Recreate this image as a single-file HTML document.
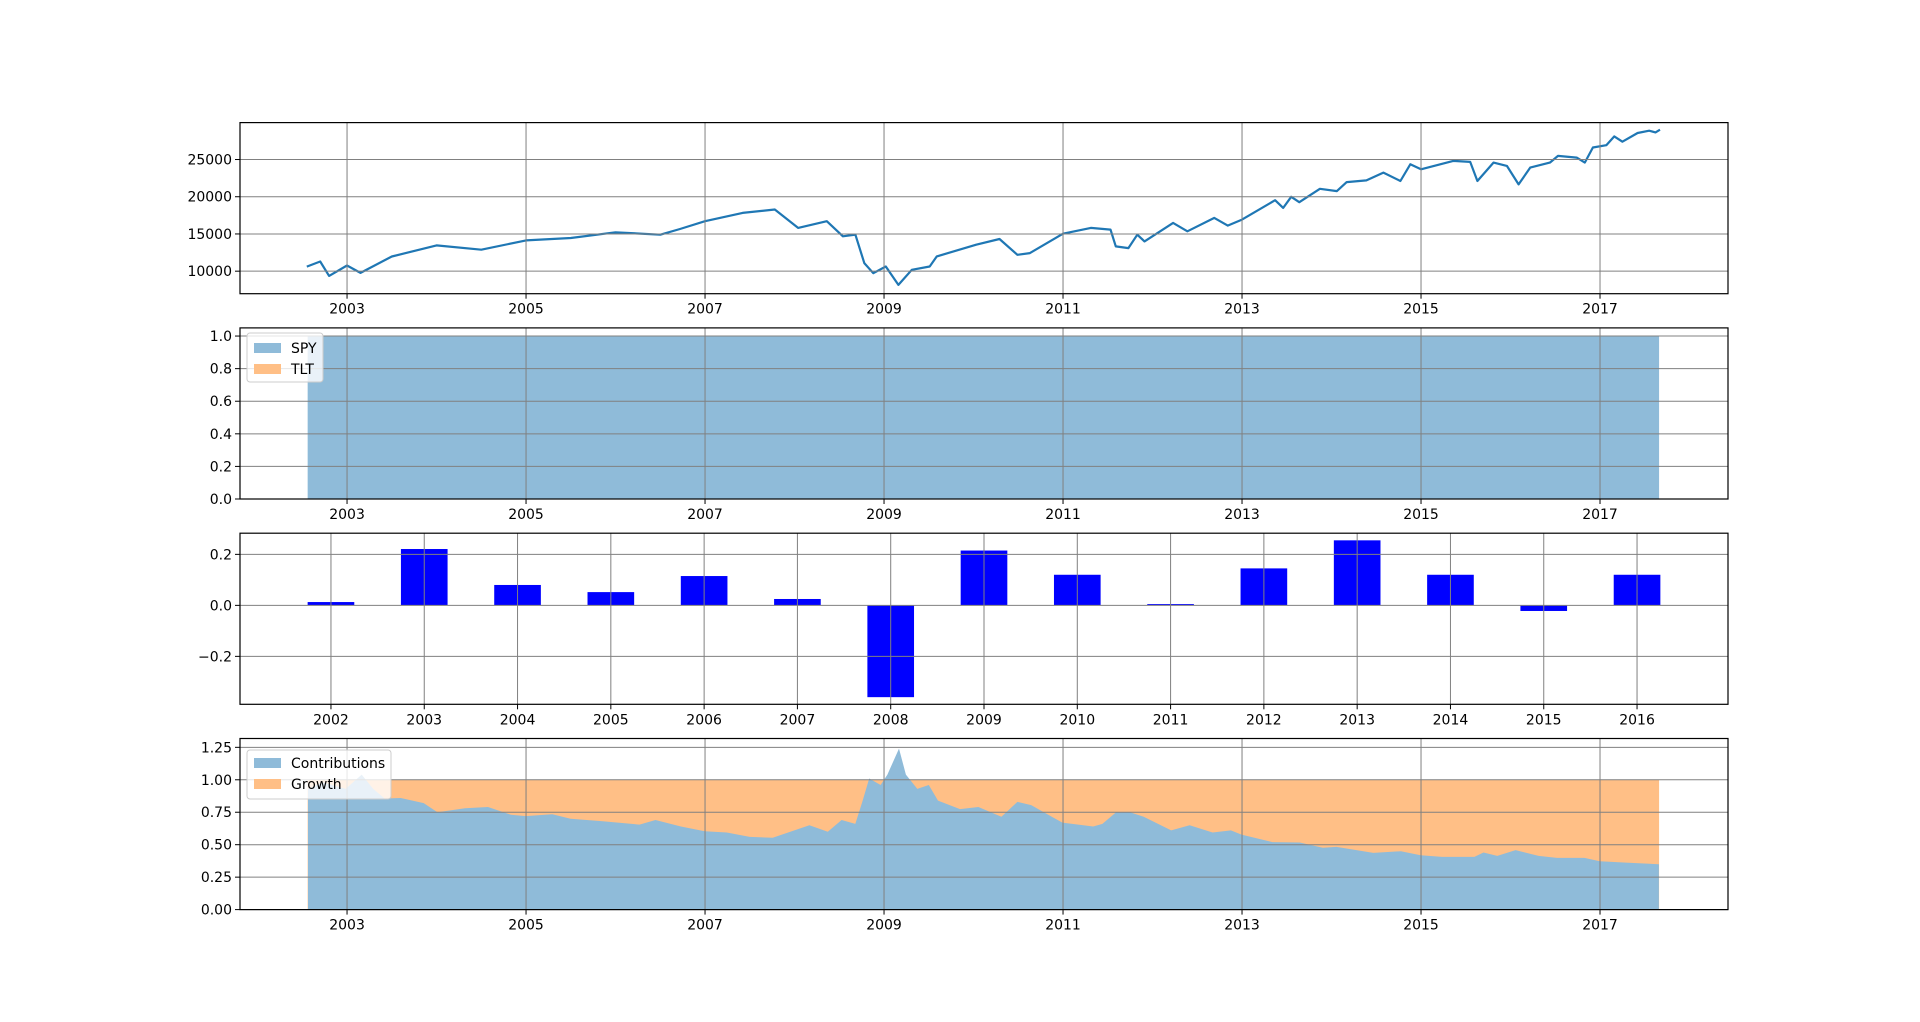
<!DOCTYPE html>
<html><head><meta charset="utf-8"><style>
html,body{margin:0;padding:0;background:#fff;}
svg{display:block;font-family:"DejaVu Sans","Liberation Sans",sans-serif;}
</style></head><body>
<svg id="fig" width="1920" height="1022" viewBox="0 0 1920 1022" xmlns="http://www.w3.org/2000/svg"></svg>
<script>
// ---- data ----
const valueYears = [2002.55,2002.7,2002.8,2003.0,2003.15,2003.5,2004.0,2004.5,2005.0,2005.5,2006.0,2006.5,2006.72,2007.0,2007.42,2007.78,2008.04,2008.36,2008.54,2008.68,2008.78,2008.88,2009.02,2009.16,2009.31,2009.51,2009.59,2010.03,2010.29,2010.49,2010.63,2011.0,2011.31,2011.53,2011.59,2011.73,2011.83,2011.91,2012.23,2012.39,2012.69,2012.84,2013.0,2013.37,2013.46,2013.55,2013.64,2013.87,2014.06,2014.17,2014.39,2014.58,2014.77,2014.88,2015.0,2015.36,2015.55,2015.63,2015.81,2015.96,2016.09,2016.22,2016.44,2016.53,2016.74,2016.83,2016.92,2017.07,2017.16,2017.25,2017.42,2017.55,2017.62,2017.67];
const portfolioValues = [10620,11300,9370,10760,9770,11970,13460,12880,14140,14460,15220,14900,15670,16710,17830,18280,15810,16710,14680,14900,11080,9730,10630,8160,10180,10630,11980,13550,14320,12200,12430,15040,15810,15580,13330,13100,14900,14000,16480,15360,17160,16120,16930,19540,18500,19990,19270,21070,20760,21970,22200,23240,22110,24360,23690,24810,24680,22110,24590,24140,21660,23910,24590,25490,25260,24590,26620,26930,28110,27390,28560,28870,28650,29010];
const allocStart = 2002.56, allocEnd = 2017.66;
const spyWeight = [1.0];
const tltWeight = [0.0];
const barYears = ['2002','2003','2004','2005','2006','2007','2008','2009','2010','2011','2012','2013','2014','2015','2016'];
const annualReturns = [0.013,0.221,0.080,0.052,0.115,0.025,-0.36,0.215,0.120,0.005,0.145,0.255,0.120,-0.022,0.120];
const contribYears = [2002.564,2002.728,2002.984,2003.164,2003.292,2003.420,2003.600,2003.856,2004.010,2004.318,2004.575,2004.831,2004.995,2005.293,2005.498,2005.857,2006.268,2006.447,2006.730,2006.996,2007.243,2007.499,2007.756,2008.166,2008.372,2008.526,2008.679,2008.757,2008.834,2008.962,2009.038,2009.167,2009.244,2009.372,2009.500,2009.603,2009.849,2010.054,2010.311,2010.490,2010.644,2010.875,2010.993,2011.337,2011.440,2011.593,2011.747,2011.901,2012.209,2012.414,2012.671,2012.876,2012.994,2013.338,2013.646,2013.902,2014.056,2014.467,2014.775,2014.995,2015.236,2015.596,2015.698,2015.852,2016.057,2016.314,2016.519,2016.827,2016.996,2017.289,2017.658];
const contribShare = [0.93,0.98,0.93,1.04,0.93,0.856,0.86,0.82,0.75,0.78,0.79,0.73,0.72,0.735,0.70,0.68,0.655,0.69,0.64,0.604,0.594,0.56,0.553,0.65,0.60,0.69,0.66,0.83,1.01,0.96,1.04,1.24,1.04,0.93,0.96,0.84,0.774,0.79,0.715,0.83,0.805,0.715,0.67,0.64,0.66,0.75,0.75,0.715,0.61,0.65,0.594,0.61,0.578,0.52,0.517,0.476,0.483,0.437,0.45,0.419,0.406,0.406,0.44,0.414,0.458,0.414,0.398,0.398,0.373,0.362,0.35];
const growthTotal = [1.0];
const yearTicks = [2003,2005,2007,2009,2011,2013,2015,2017];
const valueTicks = [10000,15000,20000,25000];
const weightTicks = [0.0,0.2,0.4,0.6,0.8,1.0];
const returnTicks = [-0.2,0.0,0.2];
const contribTicks = [0.00,0.25,0.50,0.75,1.00,1.25];

// ---- layout ----
const NS='http://www.w3.org/2000/svg';
const svg=document.getElementById('fig');
const L=240,R=1728;
const panels=[[122.6,293.7],[327.9,499.0],[533.2,704.3],[738.5,909.6]];
const xMin=2001.804,xMax=2018.43;
function xT(y){return L+(y-xMin)/(xMax-xMin)*(R-L);}
function mk(tag,attrs,parent){const e=document.createElementNS(NS,tag);for(const k in attrs)e.setAttribute(k,attrs[k]);(parent||svg).appendChild(e);return e;}
function yScale(p,lo,hi){const [t,b]=panels[p];return v=>b-(v-lo)/(hi-lo)*(b-t);}
function txt(x,y,s,anchor,parent,name){const e=mk('text',{x:x,y:y,'font-size':14,fill:'#000','text-anchor':anchor},parent);e.textContent=s;


return e;}
function fmt(v,d){let s=v.toFixed(d);if(v<0)s='\u2212'+s.slice(1);return s;}
function axesFrame(p,xticks,xfn,xlab,yticks,yfn,ydec,name){
  const [t,b]=panels[p];
  const g=mk('g',{});
  
  
  xticks.forEach((v,i)=>{const x=xfn(v,i);
    const l=mk('line',{x1:x,x2:x,y1:t,y2:b,stroke:'#808080','stroke-width':1},g);
    
    
    mk('line',{x1:x,x2:x,y1:b,y2:b+5,stroke:'#000','stroke-width':1},g);
    txt(x,b+20,xlab(v,i),'middle',g,'x-tick-label');});
  yticks.forEach(v=>{const y=yfn(v);
    const l=mk('line',{x1:L,x2:R,y1:y,y2:y,stroke:'#808080','stroke-width':1},g);
    
    
    mk('line',{x1:L-5,x2:L,y1:y,y2:y,stroke:'#000','stroke-width':1},g);
    txt(L-8,y+5,ydec<0?String(v):fmt(v,ydec),'end',g,'y-tick-label');});
  return g;
}
function frame(p,name){const [t,b]=panels[p];const r=mk('rect',{x:L,y:t,width:R-L,height:b-t,fill:'none',stroke:'#000','stroke-width':1.2});

}

// Panel 1: portfolio value line
const y0=yScale(0,6973,29960);
let pts=valueYears.map((yr,i)=>xT(yr).toFixed(1)+','+y0(portfolioValues[i]).toFixed(1)).join(' ');
const line=mk('polyline',{points:pts,fill:'none',stroke:'#1f77b4','stroke-width':2.2,'stroke-linejoin':'round'});


axesFrame(0,yearTicks,v=>xT(v),v=>String(v),valueTicks,y0,-1,'value');
frame(0,'value');

// Panel 2: allocation
const y1=yScale(1,0,1.05);
const spy=mk('rect',{x:xT(allocStart),y:y1(spyWeight[0]),width:xT(allocEnd)-xT(allocStart),height:y1(0)-y1(spyWeight[0]),fill:'#8fbbd9'});


const tlt=mk('rect',{x:xT(allocStart),y:y1(spyWeight[0]+tltWeight[0]),width:xT(allocEnd)-xT(allocStart),height:y1(spyWeight[0])-y1(spyWeight[0]+tltWeight[0]),fill:'#ffbf86'});


axesFrame(1,yearTicks,v=>xT(v),v=>String(v),weightTicks,y1,1,'allocation');
frame(1,'allocation');
// legend 2
const lg2=mk('g',{});


mk('rect',{x:247,y:333,width:76,height:49,rx:3,fill:'rgba(255,255,255,0.8)',stroke:'#ccc'},lg2);
const s1=mk('rect',{x:254,y:343,width:27,height:10,fill:'#8fbbd9'},lg2);


txt(291,353,'SPY','start',lg2,'legend-label-spy');
const s2=mk('rect',{x:254,y:364,width:27,height:10,fill:'#ffbf86'},lg2);


txt(291,374,'TLT','start',lg2,'legend-label-tlt');

// Panel 3: annual returns bars
const y2=yScale(2,-0.388,0.283);
const bMin=-0.975,bMax=14.975;
function xB(i){return L+(i-bMin)/(bMax-bMin)*(R-L);}
const bw=(xB(0.5)-xB(0));
annualReturns.forEach((v,i)=>{
  const top=Math.min(y2(v),y2(0)),h=Math.abs(y2(v)-y2(0));
  const r=mk('rect',{x:xB(i)-bw/2,y:top,width:bw,height:h,fill:'#0000ff'});
  
  
});
axesFrame(2,barYears,(v,i)=>xB(i),v=>v,returnTicks,y2,1,'returns');
frame(2,'returns');

// Panel 4: contributions vs growth
const y3=yScale(3,0,1.318);
const gr=mk('rect',{x:xT(allocStart),y:y3(growthTotal[0]),width:xT(allocEnd)-xT(allocStart),height:y3(0)-y3(growthTotal[0]),fill:'#ffbf86'});


let ap='M'+xT(contribYears[0]).toFixed(1)+','+y3(0).toFixed(1);
contribYears.forEach((yr,i)=>{ap+=' L'+xT(yr).toFixed(1)+','+y3(contribShare[i]).toFixed(1);});
ap+=' L'+xT(contribYears[contribYears.length-1]).toFixed(1)+','+y3(0).toFixed(1)+' Z';
const ca=mk('path',{d:ap,fill:'#8fbbd9'});


axesFrame(3,yearTicks,v=>xT(v),v=>String(v),contribTicks,y3,2,'contributions');
frame(3,'contributions');
const lg4=mk('g',{});


mk('rect',{x:247,y:750,width:144,height:49,rx:3,fill:'rgba(255,255,255,0.8)',stroke:'#ccc'},lg4);
const s3=mk('rect',{x:254,y:758,width:27,height:10,fill:'#8fbbd9'},lg4);


txt(291,768,'Contributions','start',lg4,'legend-label-contributions');
const s4=mk('rect',{x:254,y:779,width:27,height:10,fill:'#ffbf86'},lg4);


txt(291,789,'Growth','start',lg4,'legend-label-growth');
</script>
</body></html>
